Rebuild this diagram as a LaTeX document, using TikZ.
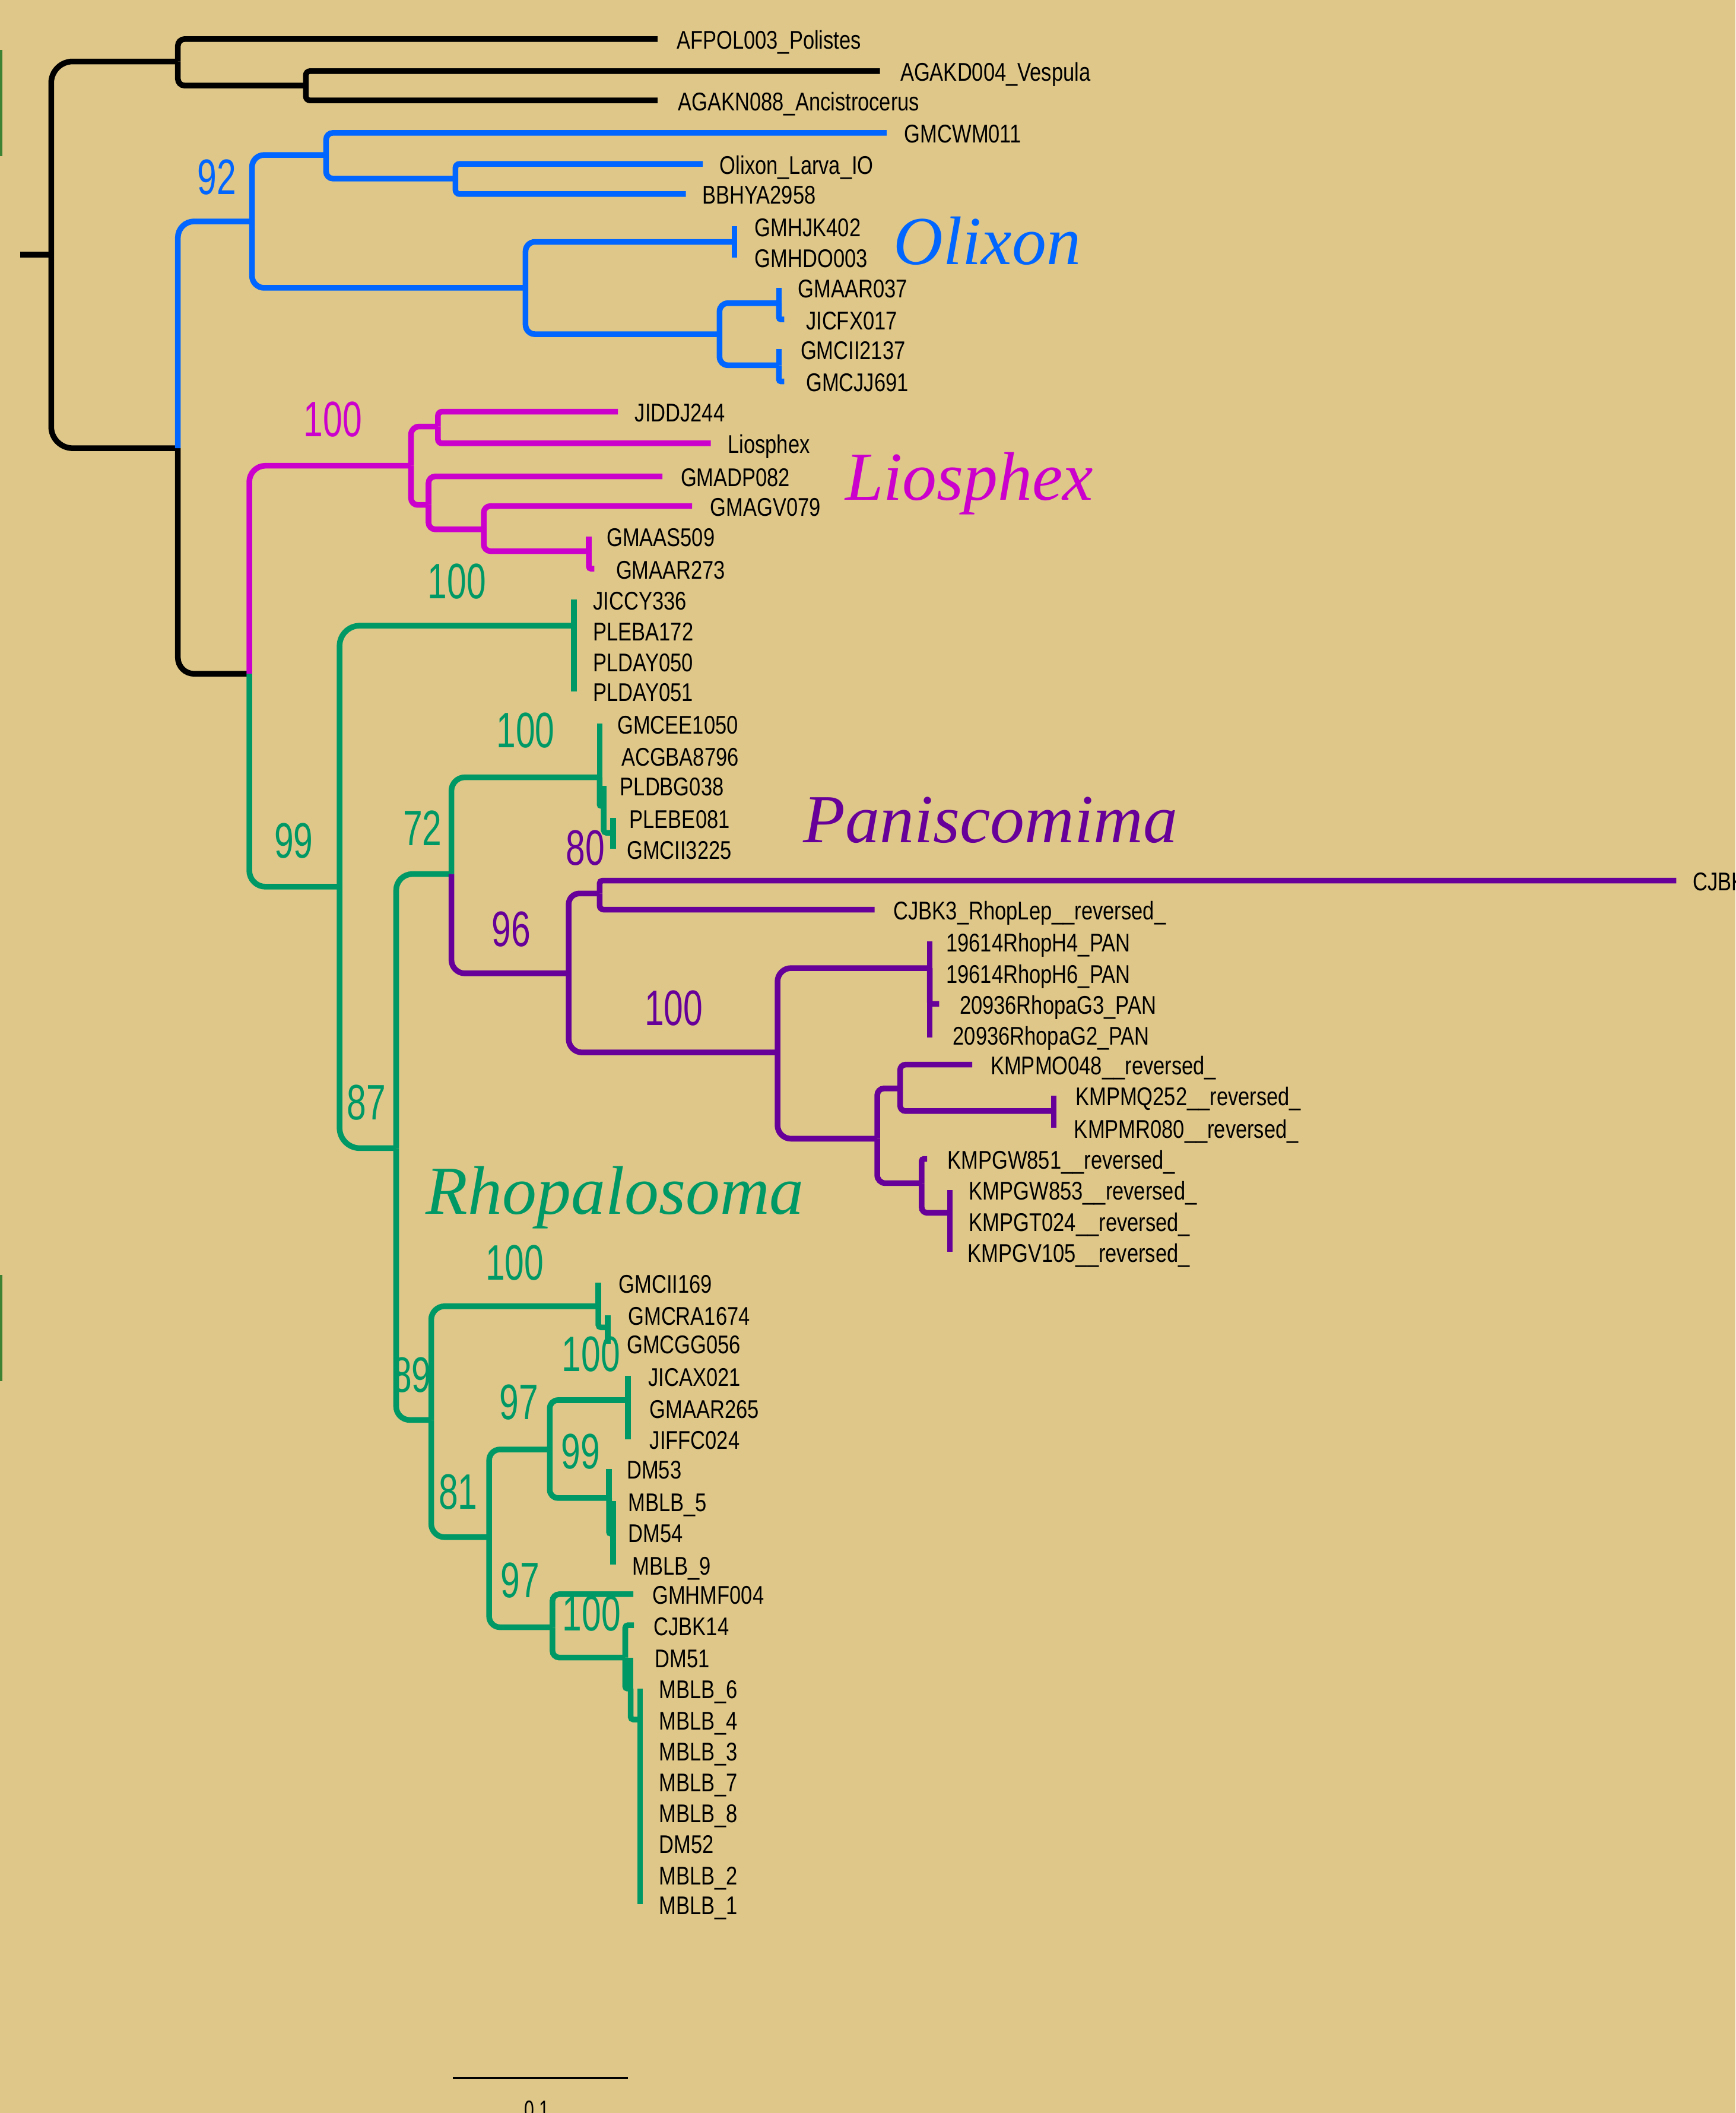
\documentclass[tikz,border=0pt]{standalone}
\usepackage{fontspec}
\setmainfont{Liberation Sans}
\newfontfamily\labfont[FakeStretch=0.8]{Liberation Sans}
\newfontfamily\bsfont[FakeStretch=0.7]{Liberation Sans}
\newfontfamily\cladefont{Liberation Serif}
\definecolor{bg}{RGB}{223,199,137}
\definecolor{cblue}{RGB}{0,102,255}
\definecolor{cmag}{RGB}{204,0,204}
\definecolor{cgreen}{RGB}{0,153,102}
\definecolor{cpurp}{RGB}{102,0,153}
\definecolor{edgegreen}{RGB}{60,130,50}
\tikzset{
  branch/.style={line width=4.2pt},
  lab/.style={anchor=base west, inner sep=0pt, yshift=-7.5pt, text=black,
    font=\labfont\fontsize{19}{20}\selectfont},
  bs/.style={anchor=center, inner sep=0pt, font=\bsfont\fontsize{37}{38}\selectfont},
  clade/.style={anchor=base west, inner sep=0pt, font=\cladefont\itshape\fontsize{51}{52}\selectfont}
}
\newcommand\br[4][0pt]{\draw[branch,#2,rounded corners=#1] (#3) |- (#4);}
\newcommand\leaf[5]{\coordinate (#1) at (#2,#3); \node[lab] (#1-t) at (#4,#3) {#5};}
\begin{document}
\begin{tikzpicture}[x=1pt,y=-1pt]
\useasboundingbox (0,0) rectangle (1288,1568);
\fill[bg] (0,0) rectangle (1288,1568);
% edge artefacts
\fill[edgegreen] (0,37) rectangle (1.6,116);
\fill[edgegreen] (0,946) rectangle (1.6,1025);
% internal nodes
\coordinate (T0) at (15,189);
\coordinate (R0) at (38,189);
\coordinate (OG) at (132,45.6);
\coordinate (OG2) at (227,63.5);
\coordinate (ING) at (132,332.6);
\coordinate (OLX) at (187,164.3);
\coordinate (O1) at (242,115);
\coordinate (O1b) at (338,132.5);
\coordinate (O2) at (390,213.6);
\coordinate (O2a) at (545,179.5);
\coordinate (O2b) at (534,248);
\coordinate (O2c) at (578,225);
\coordinate (O2d) at (578,271);
\coordinate (X) at (185,500);
\coordinate (LIO) at (305,345.6);
\coordinate (L1) at (325,316.5);
\coordinate (L2) at (318,374.7);
\coordinate (L3) at (359,392.8);
\coordinate (L4) at (437,409);
\coordinate (RHO) at (252,658);
\coordinate (RA) at (426,464.3);
\coordinate (RB) at (294,852);
\coordinate (RC) at (335,648.6);
\coordinate (GC) at (445,576.8);
\coordinate (GC2) at (448,598);
\coordinate (GC3) at (455,618);
\coordinate (PAN) at (422,722.3);
\coordinate (P1) at (445,663);
\coordinate (P2) at (577,781);
\coordinate (P3) at (690,718.4);
\coordinate (P4) at (651,845);
\coordinate (P5) at (668,807.7);
\coordinate (P6) at (684,878);
\coordinate (P7) at (782,824.5);
\coordinate (P8) at (705,900);
\coordinate (RD) at (320,1053.7);
\coordinate (RE) at (444,969.3);
\coordinate (RE2) at (451,985);
\coordinate (RF) at (363,1140.7);
\coordinate (RG) at (408,1075.6);
\coordinate (RG1) at (466,1039);
\coordinate (RG2) at (452,1111.6);
\coordinate (RG3) at (455,1138);
\coordinate (RH) at (410,1207.5);
\coordinate (RH2) at (464,1230);
\coordinate (RH3) at (468,1253);
\coordinate (RH4) at (475,1276);
% leaves
\leaf{AFPOL}{488}{29}{502}{AFPOL003\_Polistes}
\leaf{AGAKD}{653}{52.8}{668}{AGAKD004\_Vespula}
\leaf{AGAKN}{488}{74.5}{503}{AGAKN088\_Ancistrocerus}
\leaf{GMCWM}{658}{98.6}{671}{GMCWM011}
\leaf{OLARV}{521.5}{121.6}{534}{Olixon\_Larva\_IO}
\leaf{BBHYA}{509}{144}{521}{BBHYA2958}
\leaf{GMHJK}{545}{168}{560}{GMHJK402}
\leaf{GMHDO}{545}{191}{560}{GMHDO003}
\leaf{GMAARa}{578}{213.5}{592}{GMAAR037}
\leaf{JICFX}{582}{237}{598}{JICFX017}
\leaf{GMCIIa}{578}{259}{594}{GMCII2137}
\leaf{GMCJJ}{582}{283}{598}{GMCJJ691}
\leaf{JIDDJ}{458.6}{305.5}{471}{JIDDJ244}
\leaf{LIOS}{527.5}{329}{540}{Liosphex}
\leaf{GMADP}{491.6}{353.5}{505}{GMADP082}
\leaf{GMAGV}{513.6}{375.5}{527}{GMAGV079}
\leaf{GMAAS}{437}{398}{450}{GMAAS509}
\leaf{GMAARb}{441}{422}{457}{GMAAR273}
\leaf{JICCY}{426}{445}{440}{JICCY336}
\leaf{PLEBA}{426}{468}{440}{PLEBA172}
\leaf{PLDAYa}{426}{491}{440}{PLDAY050}
\leaf{PLDAYb}{426}{513}{440}{PLDAY051}
\leaf{GMCEE}{445}{537}{458}{GMCEE1050}
\leaf{ACGBA}{445}{561}{461}{ACGBA8796}
\leaf{PLDBG}{448}{583}{460}{PLDBG038}
\leaf{PLEBE}{455}{607}{467}{PLEBE081}
\leaf{GMCIIb}{455}{630}{465}{GMCII3225}
\leaf{CJBKL}{1244}{653.5}{1256}{CJBK}
\leaf{CJBKt}{649}{675}{663}{CJBK3\_RhopLep\_\_reversed\_}
\leaf{HfourA}{690}{698.7}{702}{19614RhopH4\_PAN}
\leaf{HsixA}{690}{722}{702}{19614RhopH6\_PAN}
\leaf{GthreeA}{697}{745}{712}{20936RhopaG3\_PAN}
\leaf{GtwoA}{692}{768}{707}{20936RhopaG2\_PAN}
\leaf{KMPMO}{721.5}{790}{735}{KMPMO048\_\_reversed\_}
\leaf{KMPMQ}{782}{813}{798}{KMPMQ252\_\_reversed\_}
\leaf{KMPMR}{782}{837}{797}{KMPMR080\_\_reversed\_}
\leaf{KMPGWa}{688}{860}{703}{KMPGW851\_\_reversed\_}
\leaf{KMPGWb}{705}{883}{719}{KMPGW853\_\_reversed\_}
\leaf{KMPGT}{705}{906}{719}{KMPGT024\_\_reversed\_}
\leaf{KMPGV}{705}{929}{718}{KMPGV105\_\_reversed\_}
\leaf{GMCIIc}{444}{952}{459}{GMCII169}
\leaf{GMCRA}{451}{976}{466}{GMCRA1674}
\leaf{GMCGG}{451}{997}{465}{GMCGG056}
\leaf{JICAX}{466}{1021}{481}{JICAX021}
\leaf{GMAARc}{466}{1045}{482}{GMAAR265}
\leaf{JIFFC}{466}{1068}{482}{JIFFC024}
\leaf{DMfiftythree}{452}{1090}{465}{DM53}
\leaf{MBLBfive}{455}{1114}{466}{MBLB\_5}
\leaf{DMfiftyfour}{455}{1137}{466}{DM54}
\leaf{MBLBnine}{455}{1161}{469}{MBLB\_9}
\leaf{GMHMF}{470}{1183}{484}{GMHMF004}
\leaf{CJBKfourteen}{470.5}{1206}{485}{CJBK14}
\leaf{DMfiftyone}{468}{1230}{486}{DM51}
\leaf{MBLBsix}{475}{1253}{489}{MBLB\_6}
\leaf{MBLBfour}{475}{1276}{489}{MBLB\_4}
\leaf{MBLBthree}{475}{1299}{489}{MBLB\_3}
\leaf{MBLBseven}{475}{1322}{489}{MBLB\_7}
\leaf{MBLBeight}{475}{1345}{489}{MBLB\_8}
\leaf{DMfiftytwo}{475}{1368}{489}{DM52}
\leaf{MBLBtwo}{475}{1391}{489}{MBLB\_2}
\leaf{MBLBone}{475}{1413}{489}{MBLB\_1}
% branches: outgroup (black)
\draw[branch,black] (T0) -- (R0);
\br[16pt]{black}{R0}{OG}
\br[16pt]{black}{R0}{ING}
\br[5pt]{black}{OG}{AFPOL}
\br[5pt]{black}{OG}{OG2}
\br[3pt]{black}{OG2}{AGAKD}
\br[3pt]{black}{OG2}{AGAKN}
\br[12pt]{black}{ING}{X}
% Olixon (blue)
\br[12pt]{cblue}{ING}{OLX}
\br[9pt]{cblue}{OLX}{O1}
\br[9pt]{cblue}{OLX}{O2}
\br[5pt]{cblue}{O1}{GMCWM}
\br[5pt]{cblue}{O1}{O1b}
\br[3pt]{cblue}{O1b}{OLARV}
\br[3pt]{cblue}{O1b}{BBHYA}
\br[7pt]{cblue}{O2}{O2a}
\br[7pt]{cblue}{O2}{O2b}
\br{cblue}{O2a}{GMHJK}
\br{cblue}{O2a}{GMHDO}
\br[6pt]{cblue}{O2b}{O2c}
\br[6pt]{cblue}{O2b}{O2d}
\br{cblue}{O2c}{GMAARa}
\br[1.5pt]{cblue}{O2c}{JICFX}
\br{cblue}{O2d}{GMCIIa}
\br[1.5pt]{cblue}{O2d}{GMCJJ}
% Liosphex (magenta)
\br[12pt]{cmag}{X}{LIO}
\br[6pt]{cmag}{LIO}{L1}
\br[5pt]{cmag}{LIO}{L2}
\br[3pt]{cmag}{L1}{JIDDJ}
\br[3pt]{cmag}{L1}{LIOS}
\br[5pt]{cmag}{L2}{GMADP}
\br[5pt]{cmag}{L2}{L3}
\br[5pt]{cmag}{L3}{GMAGV}
\br[5pt]{cmag}{L3}{L4}
\br{cmag}{L4}{GMAAS}
\br[1.5pt]{cmag}{L4}{GMAARb}
% Rhopalosoma (green)
\br[12pt]{cgreen}{X}{RHO}
\br[15pt]{cgreen}{RHO}{RA}
\br[15pt]{cgreen}{RHO}{RB}
\br{cgreen}{RA}{JICCY}
\br{cgreen}{RA}{PLEBA}
\br{cgreen}{RA}{PLDAYa}
\br{cgreen}{RA}{PLDAYb}
\br[12pt]{cgreen}{RB}{RC}
\br[10pt]{cgreen}{RB}{RD}
\br[10pt]{cgreen}{RC}{GC}
\br{cgreen}{GC}{GMCEE}
\br{cgreen}{GC}{ACGBA}
\br[1pt]{cgreen}{GC}{GC2}
\br{cgreen}{GC2}{PLDBG}
\br[2pt]{cgreen}{GC2}{GC3}
\br{cgreen}{GC3}{PLEBE}
\br{cgreen}{GC3}{GMCIIb}
% Paniscomima (purple)
\br[10pt]{cpurp}{RC}{PAN}
\br[8pt]{cpurp}{PAN}{P1}
\br[10pt]{cpurp}{PAN}{P2}
\br[2pt]{cpurp}{P1}{CJBKL}
\br[3pt]{cpurp}{P1}{CJBKt}
\br[10pt]{cpurp}{P2}{P3}
\br[10pt]{cpurp}{P2}{P4}
\br{cpurp}{P3}{HfourA}
\br{cpurp}{P3}{HsixA}
\br[1.5pt]{cpurp}{P3}{GthreeA}
\br{cpurp}{P3}{GtwoA}
\br[5pt]{cpurp}{P4}{P5}
\br[6pt]{cpurp}{P4}{P6}
\br[4pt]{cpurp}{P5}{KMPMO}
\br[4pt]{cpurp}{P5}{P7}
\br{cpurp}{P7}{KMPMQ}
\br{cpurp}{P7}{KMPMR}
\br[1.5pt]{cpurp}{P6}{KMPGWa}
\br[4pt]{cpurp}{P6}{P8}
\br{cpurp}{P8}{KMPGWb}
\br{cpurp}{P8}{KMPGT}
\br{cpurp}{P8}{KMPGV}
% lower Rhopalosoma (green)
\br[10pt]{cgreen}{RD}{RE}
\br[10pt]{cgreen}{RD}{RF}
\br{cgreen}{RE}{GMCIIc}
\br[2pt]{cgreen}{RE}{RE2}
\br{cgreen}{RE2}{GMCRA}
\br{cgreen}{RE2}{GMCGG}
\br[8pt]{cgreen}{RF}{RG}
\br[8pt]{cgreen}{RF}{RH}
\br[6pt]{cgreen}{RG}{RG1}
\br[6pt]{cgreen}{RG}{RG2}
\br{cgreen}{RG1}{JICAX}
\br{cgreen}{RG1}{GMAARc}
\br{cgreen}{RG1}{JIFFC}
\br{cgreen}{RG2}{DMfiftythree}
\br[1pt]{cgreen}{RG2}{RG3}
\br{cgreen}{RG3}{MBLBfive}
\br{cgreen}{RG3}{DMfiftyfour}
\br{cgreen}{RG3}{MBLBnine}
\br[5pt]{cgreen}{RH}{GMHMF}
\br[5pt]{cgreen}{RH}{RH2}
\br[2pt]{cgreen}{RH2}{CJBKfourteen}
\br[1.5pt]{cgreen}{RH2}{RH3}
\br{cgreen}{RH3}{DMfiftyone}
\br[2pt]{cgreen}{RH3}{RH4}
\br{cgreen}{RH4}{MBLBsix}
\br{cgreen}{RH4}{MBLBfour}
\br{cgreen}{RH4}{MBLBthree}
\br{cgreen}{RH4}{MBLBseven}
\br{cgreen}{RH4}{MBLBeight}
\br{cgreen}{RH4}{DMfiftytwo}
\br{cgreen}{RH4}{MBLBtwo}
\br{cgreen}{RH4}{MBLBone}
% bootstrap values
\node[bs,text=cblue] (b92) at (161,131.6) {92};
\node[bs,text=cmag] (b100m) at (247,311) {100};
\node[bs,text=cgreen] (b100a) at (339,431.4) {100};
\node[bs,text=cgreen] (b99a) at (218,624) {99};
\node[bs,text=cgreen] (b100b) at (390,542) {100};
\node[bs,text=cgreen] (b72) at (313.5,614.7) {72};
\node[bs,text=cpurp] (b80) at (434.4,629.4) {80};
\node[bs,text=cpurp] (b96) at (379.4,689.5) {96};
\node[bs,text=cpurp] (b100p) at (500,748) {100};
\node[bs,text=cgreen] (b87) at (272,818) {87};
\node[bs,text=cgreen] (b100c) at (382,937) {100};
\node[bs,text=cgreen] (b100d) at (438.7,1004.8) {100};
\node[bs,text=cgreen] (b89) at (305.6,1020.4) {89};
\node[bs,text=cgreen] (b97a) at (385,1040.8) {97};
\node[bs,text=cgreen] (b99b) at (431,1077) {99};
\node[bs,text=cgreen] (b81) at (340,1107) {81};
\node[bs,text=cgreen] (b97b) at (386,1172.7) {97};
\node[bs,text=cgreen] (b100e) at (439,1197.6) {100};
% clade names
\node[clade,text=cblue] (nOlixon) at (663,196) {Olixon};
\node[clade,text=cmag] (nLiosphex) at (627,371) {Liosphex};
\node[clade,text=cpurp] (nPanisc) at (596,625) {Paniscomima};
\node[clade,text=cgreen] (nRhopa) at (316,901) {Rhopalosoma};
% scale bar
\coordinate (sbA) at (336,1542);
\coordinate (sbB) at (466,1542);
\draw[line width=1.8pt,black] (sbA) -- (sbB);
\node[anchor=base west, inner sep=0pt, font=\bsfont\fontsize{19}{20}\selectfont] (sbl) at (389,1572) {0.1};
\end{tikzpicture}
\end{document}
